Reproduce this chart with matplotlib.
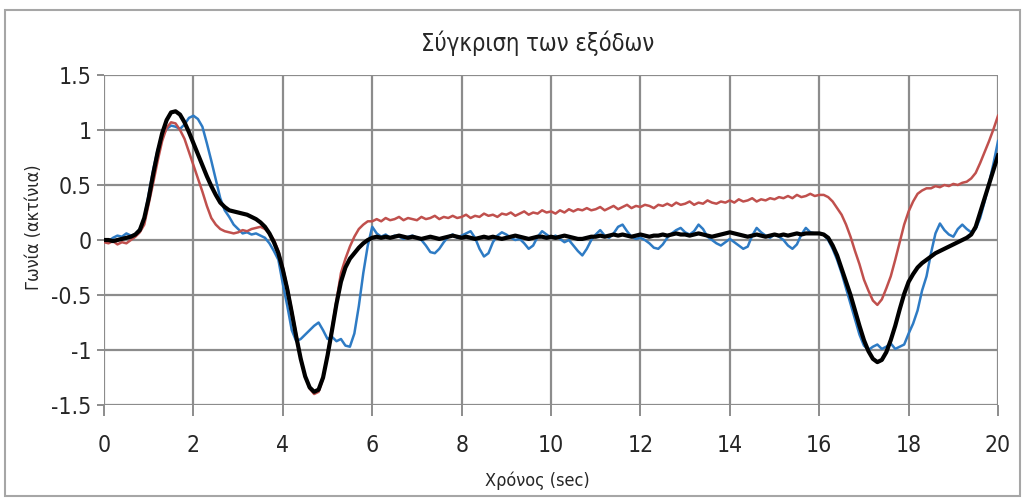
import numpy as np
import matplotlib
matplotlib.use("Agg")
import matplotlib.pyplot as plt
from matplotlib.patches import Rectangle

plt.rcParams['font.family'] = ['DejaVu Sans']
plt.rcParams['font.stretch'] = 'condensed'

# time axis: one sample every 0.1 s from 0 to 20 s
t = np.round(np.arange(0, 20.01, 0.1), 1)

# reference output (black, smooth)
black = [
    0.00, 0.00, -0.01, 0.00, 0.01, 0.02, 0.03, 0.05, 0.09, 0.20,
    0.38, 0.60, 0.80, 0.97, 1.09, 1.16, 1.17, 1.14, 1.07, 0.98,
    0.88, 0.78, 0.68, 0.58, 0.49, 0.41, 0.34, 0.30, 0.27, 0.26,
    0.25, 0.24, 0.23, 0.21, 0.19, 0.16, 0.12, 0.06, -0.02, -0.12,
    -0.27, -0.45, -0.66, -0.88, -1.08, -1.24, -1.34, -1.38, -1.36, -1.25,
    -1.05, -0.82, -0.58, -0.38, -0.25, -0.17, -0.12, -0.07, -0.03, 0.00,
    0.02, 0.03, 0.02, 0.03, 0.02, 0.03, 0.04, 0.03, 0.02, 0.03,
    0.02, 0.01, 0.02, 0.03, 0.02, 0.01, 0.02, 0.03, 0.04, 0.03,
    0.02, 0.03, 0.02, 0.01, 0.02, 0.03, 0.02, 0.03, 0.02, 0.01,
    0.02, 0.03, 0.04, 0.03, 0.02, 0.01, 0.02, 0.03, 0.03, 0.02,
    0.03, 0.02, 0.03, 0.04, 0.03, 0.02, 0.01, 0.01, 0.02, 0.03,
    0.03, 0.04, 0.03, 0.04, 0.05, 0.04, 0.05, 0.04, 0.03, 0.04,
    0.05, 0.04, 0.03, 0.04, 0.04, 0.05, 0.04, 0.05, 0.06, 0.05,
    0.05, 0.04, 0.05, 0.06, 0.05, 0.04, 0.03, 0.04, 0.05, 0.06,
    0.07, 0.06, 0.05, 0.04, 0.03, 0.04, 0.05, 0.04, 0.03, 0.04,
    0.05, 0.04, 0.05, 0.04, 0.05, 0.06, 0.05, 0.06, 0.06, 0.06,
    0.06, 0.05, 0.02, -0.05, -0.14, -0.26, -0.38, -0.50, -0.64, -0.78,
    -0.91, -1.01, -1.08, -1.11, -1.09, -1.02, -0.91, -0.78, -0.63, -0.49,
    -0.38, -0.31, -0.25, -0.21, -0.18, -0.15, -0.12, -0.10, -0.08, -0.06,
    -0.04, -0.02, 0.00, 0.02, 0.05, 0.12, 0.25, 0.38, 0.51, 0.64,
    0.77,
]

# red output
red = [
    -0.02, -0.03, -0.01, -0.04, -0.02, -0.03, 0.00, 0.03, 0.07, 0.14,
    0.33, 0.52, 0.72, 0.90, 1.02, 1.07, 1.06, 1.00, 0.92, 0.80,
    0.68, 0.56, 0.44, 0.31, 0.20, 0.14, 0.10, 0.08, 0.07, 0.06,
    0.07, 0.09, 0.08, 0.10, 0.11, 0.12, 0.10, 0.06, 0.00, -0.10,
    -0.25, -0.43, -0.64, -0.86, -1.07, -1.24, -1.35, -1.40, -1.38, -1.26,
    -1.04, -0.80, -0.55, -0.30, -0.17, -0.06, 0.03, 0.10, 0.14, 0.17,
    0.17, 0.19, 0.17, 0.20, 0.18, 0.19, 0.21, 0.18, 0.20, 0.19,
    0.18, 0.21, 0.19, 0.20, 0.22, 0.19, 0.21, 0.20, 0.22, 0.20,
    0.21, 0.23, 0.20, 0.22, 0.21, 0.24, 0.22, 0.23, 0.21, 0.24,
    0.23, 0.25, 0.22, 0.24, 0.26, 0.23, 0.25, 0.24, 0.27, 0.25,
    0.26, 0.24, 0.27, 0.25, 0.28, 0.26, 0.28, 0.27, 0.29, 0.27,
    0.28, 0.30, 0.27, 0.29, 0.31, 0.28, 0.30, 0.32, 0.29, 0.31,
    0.30, 0.32, 0.31, 0.29, 0.32, 0.31, 0.33, 0.31, 0.34, 0.32,
    0.33, 0.35, 0.32, 0.34, 0.33, 0.36, 0.34, 0.33, 0.35, 0.34,
    0.36, 0.34, 0.37, 0.35, 0.36, 0.38, 0.35, 0.37, 0.36, 0.38,
    0.37, 0.39, 0.38, 0.40, 0.38, 0.41, 0.39, 0.40, 0.42, 0.40,
    0.41, 0.41, 0.39, 0.35, 0.29, 0.23, 0.14, 0.03, -0.10, -0.22,
    -0.36, -0.46, -0.55, -0.59, -0.54, -0.44, -0.33, -0.18, -0.02, 0.14,
    0.26, 0.35, 0.42, 0.45, 0.47, 0.47, 0.49, 0.48, 0.50, 0.49,
    0.51, 0.50, 0.52, 0.53, 0.56, 0.61, 0.70, 0.80, 0.90, 1.01,
    1.13,
]

# blue output
blue = [
    0.00, -0.01, 0.02, 0.04, 0.03, 0.06, 0.04, 0.05, 0.10, 0.20,
    0.42, 0.64, 0.82, 0.94, 1.01, 1.04, 1.03, 1.01, 1.05, 1.11,
    1.13, 1.10, 1.03, 0.88, 0.72, 0.55, 0.38, 0.27, 0.21, 0.14,
    0.10, 0.06, 0.07, 0.05, 0.06, 0.04, 0.02, -0.03, -0.10, -0.18,
    -0.40, -0.60, -0.82, -0.92, -0.90, -0.86, -0.82, -0.78, -0.75, -0.82,
    -0.90, -0.88, -0.92, -0.90, -0.96, -0.97, -0.85, -0.60, -0.30, -0.05,
    0.12, 0.06, 0.03, 0.05, 0.02, 0.04, 0.03, 0.01, 0.03, 0.04,
    0.02, 0.00, -0.05, -0.11, -0.12, -0.08, -0.02, 0.03, 0.05, 0.02,
    0.04, 0.06, 0.08, 0.02, -0.08, -0.15, -0.12, -0.02, 0.04, 0.07,
    0.05, 0.02, 0.00, 0.01, -0.03, -0.08, -0.05, 0.03, 0.08, 0.05,
    0.02, 0.04, 0.01, -0.02, 0.00, -0.05, -0.10, -0.14, -0.08, 0.00,
    0.05, 0.09, 0.04, 0.02, 0.06, 0.12, 0.14, 0.08, 0.03, 0.01,
    0.02, 0.00, -0.03, -0.07, -0.08, -0.04, 0.02, 0.06, 0.09, 0.11,
    0.07, 0.05, 0.08, 0.14, 0.10, 0.03, 0.00, -0.03, -0.05, -0.02,
    0.01, -0.02, -0.05, -0.08, -0.06, 0.04, 0.11, 0.07, 0.04, 0.02,
    0.05, 0.03, 0.00, -0.05, -0.08, -0.04, 0.05, 0.11, 0.07, 0.06,
    0.06, 0.05, 0.00, -0.08, -0.18, -0.30, -0.44, -0.58, -0.72, -0.86,
    -0.96, -1.00, -0.97, -0.95, -0.99, -0.97, -0.94, -0.99, -0.97, -0.95,
    -0.85, -0.76, -0.64, -0.46, -0.33, -0.12, 0.06, 0.15, 0.09, 0.05,
    0.03, 0.10, 0.14, 0.10, 0.07, 0.10, 0.20, 0.35, 0.52, 0.70,
    0.90,
]

x_ticks = [0, 2, 4, 6, 8, 10, 12, 14, 16, 18, 20]
y_ticks = [-1.5, -1, -0.5, 0, 0.5, 1, 1.5]
y_labels = ["-1.5", "-1", "-0.5", "0", "0.5", "1", "1.5"]

fig = plt.figure(figsize=(10.25, 4.98), dpi=100)
ax = fig.add_axes([0.1015, 0.1867, 0.8722, 0.6627])

grid_c = '#8c8c8c'
txt_c = '#262626'
ax.plot(t, blue, color='#2e7bc4', lw=1.8, zorder=3)
ax.plot(t, red, color='#c0504d', lw=1.8, zorder=4)
ax.plot(t, black, color='black', lw=3.0, zorder=5)

ax.set_xlim(0, 20)
ax.set_ylim(-1.5, 1.5)
ax.set_xticks(x_ticks)
ax.set_yticks(y_ticks)
ax.set_yticklabels(y_labels)
ax.grid(True, color=grid_c, lw=1.6)
for s in ax.spines.values():
    s.set_visible(False)
ax.tick_params(axis='x', length=8, width=1.4, color=grid_c, pad=13,
               labelsize=16.5, labelcolor=txt_c)
ax.tick_params(axis='y', length=5, width=1.4, color=grid_c, pad=4,
               labelsize=16.5, labelcolor=txt_c)

ax.set_title("Σύγκριση των εξόδων", fontsize=17, color=txt_c, pad=17, x=0.485)
ax.set_xlabel("Χρόνος (sec)", fontsize=13, color=txt_c)
ax.xaxis.set_label_coords(0.485, -0.2)
ax.set_ylabel("Γωνία (ακτίνια)", fontsize=13, color=txt_c)
ax.yaxis.set_label_coords(-0.068, 0.54)

# chart area border
fig.patches.append(Rectangle((0.005, 0.004), 0.99, 0.976, transform=fig.transFigure,
                             fill=False, edgecolor='#a6a6a6', lw=1.5))

fig.savefig('out.png', dpi=100)
